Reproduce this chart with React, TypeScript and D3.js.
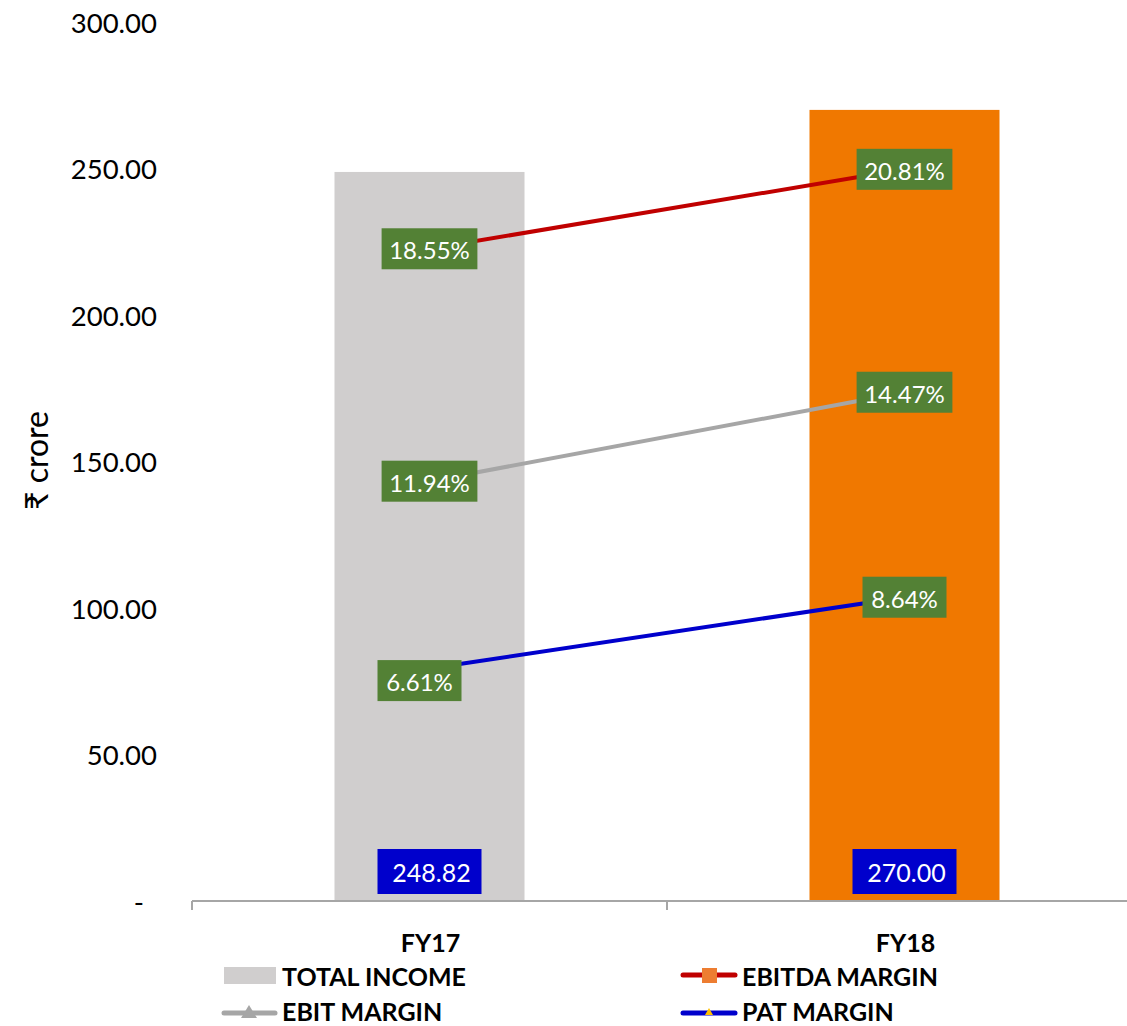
import React from "react";
import * as d3 from "d3";

const categories = ["FY17", "FY18"];
const totalIncome = [248.82, 270.0];
const ebitdaMargin = [18.55, 20.81];
const ebitMargin = [11.94, 14.47];
const patMargin = [6.61, 8.64];
const yTicks = [0, 50, 100, 150, 200, 250, 300];

const W = 1127;
const H = 1026;
const FONT = "Lato, 'Open Sans', 'DejaVu Sans', sans-serif";

const barColors = ["#D0CECE", "#F07800"];
const series = [
  { name: "EBITDA MARGIN", values: ebitdaMargin, color: "#C00000" },
  { name: "EBIT MARGIN", values: ebitMargin, color: "#A6A6A6" },
  { name: "PAT MARGIN", values: patMargin, color: "#0000CC" },
];

export default function App() {
  const x = d3.scaleBand<string>().domain(categories).range([192, 1142]).padding(0);
  const y = d3.scaleLinear().domain([0, 300]).range([901, 22]);
  const y2 = d3.scaleLinear().domain([0, 25]).range([901, 22]);
  const barW = x.bandwidth() * 0.4;
  const cx = (c: string) => (x(c) as number) + x.bandwidth() / 2;
  const line = d3
    .line<number>()
    .x((_, i) => cx(categories[i]))
    .y((v) => y2(v));

  const fmtPct = (v: number) => d3.format(".2f")(v) + "%";
  const fmtTick = (v: number) => (v === 0 ? "-" : d3.format(".2f")(v));
  const charW = 11.8;

  return (
    <svg width={W} height={H} style={{ position: "absolute", left: 0, top: 0 }} fontFamily={FONT}>
      <rect x={0} y={0} width={W} height={H} fill="#fff" />
      {/* y tick labels */}
      {yTicks.map((t) => (
        <text
          key={t}
          x={t === 0 ? 144 : 157}
          y={y(t)}
          textAnchor="end"
          dominantBaseline="central"
          fontSize={27.5}
          fill="#000"
        >
          {fmtTick(t)}
        </text>
      ))}
      {/* y title */}
      <text
        transform={`translate(35,${y(150) - 1}) rotate(-90)`}
        textAnchor="middle"
        dominantBaseline="central"
        fontSize={32}
        fill="#000"
      >
        ₹ crore
      </text>
      {/* bars */}
      {categories.map((c, i) => (
        <rect
          key={c}
          x={cx(c) - barW / 2}
          y={y(totalIncome[i])}
          width={barW}
          height={y(0) - y(totalIncome[i])}
          fill={barColors[i]}
        />
      ))}
      {/* x axis */}
      <line x1={192} x2={1142} y1={y(0)} y2={y(0)} stroke="#A6A6A6" strokeWidth={2} />
      {[...categories.map((c) => x(c) as number), 1142].map((t, i) => (
        <line key={i} x1={t} x2={t} y1={y(0)} y2={y(0) + 9} stroke="#A6A6A6" strokeWidth={2} />
      ))}
      {categories.map((c) => (
        <text
          key={c}
          x={cx(c) + 1}
          y={942}
          textAnchor="middle"
          dominantBaseline="central"
          fontSize={25}
          fontWeight="bold"
          fill="#000"
        >
          {c}
        </text>
      ))}
      {/* lines */}
      {series.map((s) => (
        <path key={s.name} d={line(s.values) as string} fill="none" stroke={s.color} strokeWidth={4} />
      ))}
      {/* margin labels */}
      {series.map((s) =>
        s.values.map((v, i) => {
          const txt = fmtPct(v);
          const bw = txt.length * charW + 25;
          const nudge = s.name === "PAT MARGIN" && i === 0 ? { dx: -10, dy: 12 } : { dx: 0, dy: 0 };
          const px = cx(categories[i]) + nudge.dx;
          const py = y2(v) + nudge.dy;
          return (
            <g key={s.name + i}>
              <rect x={px - bw / 2} y={py - 20.5} width={bw} height={41} fill="#538135" />
              <text
                x={px}
                y={py + 1}
                textAnchor="middle"
                dominantBaseline="central"
                fontSize={24}
                fill="#fff"
              >
                {txt}
              </text>
            </g>
          );
        })
      )}
      {/* total income labels */}
      {categories.map((c, i) => (
        <g key={c}>
          <rect x={cx(c) - 52} y={849} width={104} height={45} fill="#0000CC" />
          <text
            x={cx(c) + 2}
            y={872}
            textAnchor="middle"
            dominantBaseline="central"
            fontSize={25}
            fill="#fff"
          >
            {d3.format(".2f")(totalIncome[i])}
          </text>
        </g>
      ))}
      {/* legend */}
      <g fontSize={25} fontWeight="bold" fill="#000">
        <rect x={224} y={967} width={52} height={17} fill={barColors[0]} />
        <text x={282} y={976} dominantBaseline="central">TOTAL INCOME</text>

        <line x1={683} x2={735} y1={975} y2={975} stroke="#C00000" strokeWidth={5} strokeLinecap="round" />
        <rect x={702} y={968} width={15} height={15} fill="#ED7D31" />
        <text x={742} y={976} dominantBaseline="central">EBITDA MARGIN</text>

        <line x1={224} x2={275} y1={1013} y2={1013} stroke="#A6A6A6" strokeWidth={5} strokeLinecap="round" />
        <path d="M249,1005 L257,1018 L241,1018 Z" fill="#A6A6A6" />
        <text x={282} y={1011} dominantBaseline="central">EBIT MARGIN</text>

        <line x1={683} x2={735} y1={1013} y2={1013} stroke="#0000CC" strokeWidth={5} strokeLinecap="round" />
        <path d="M709,1008 L713,1015 L705,1015 Z" fill="#FFC000" />
        <text x={742} y={1011} dominantBaseline="central">PAT MARGIN</text>
      </g>
    </svg>
  );
}
